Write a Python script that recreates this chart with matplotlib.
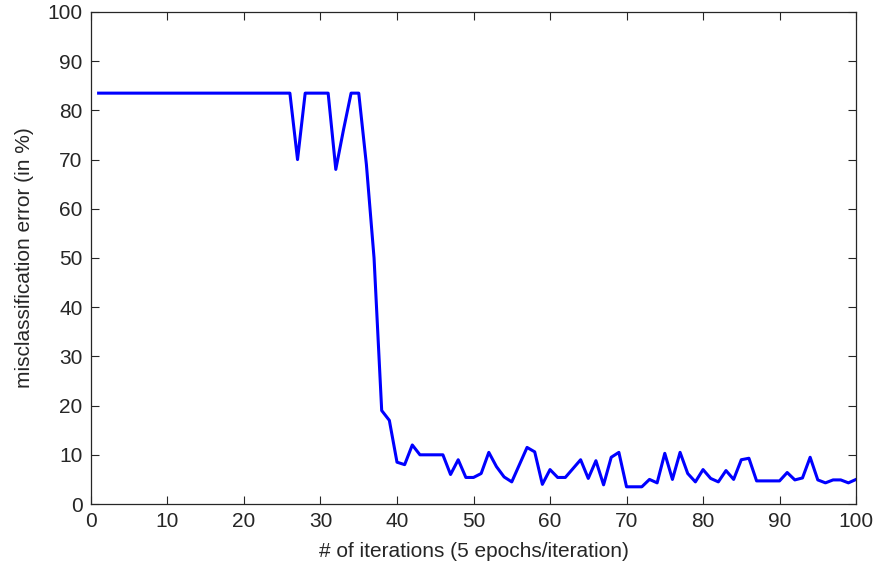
import matplotlib
matplotlib.use("Agg")
import matplotlib.pyplot as plt
import numpy as np

iterations = list(range(1, 101))
error_pct = (
    [83.5] * 26 +
    [70.0, 83.5, 83.5, 83.5, 83.5, 68.0, 76.0, 83.5, 83.5, 69.0,
     50.0, 19.0, 17.0, 8.5, 8.0, 12.0, 10.0, 10.0, 10.0, 10.0,
     6.0, 9.0, 5.4, 5.4, 6.2, 10.5, 7.6, 5.5, 4.5, 8.0,
     11.5, 10.6, 4.0, 7.0, 5.4, 5.4, 7.2, 9.0, 5.2, 8.8,
     3.9, 9.5, 10.5, 3.5, 3.5, 3.5, 5.0, 4.3, 10.3, 5.0,
     10.5, 6.2, 4.5, 7.0, 5.2, 4.5, 6.8, 5.0, 9.0, 9.3,
     4.7, 4.7, 4.7, 4.7, 6.4, 4.9, 5.3, 9.5, 4.9, 4.3,
     4.9, 4.9, 4.3, 5.0]
)
xticks = list(range(0, 101, 10))
yticks = list(range(0, 101, 10))

plt.rcParams['font.family'] = ['Liberation Sans', 'DejaVu Sans']

fig = plt.figure(figsize=(8.78, 5.69), dpi=100)
ax = fig.add_axes([0.1036, 0.1142, 0.975 - 0.1036, 0.979 - 0.1142])
ax.plot(iterations, error_pct, color='#0000ff', linewidth=2.2)
ax.set_xlim(0, 100)
ax.set_ylim(0, 100)
ax.set_xticks(xticks)
ax.set_yticks(yticks)
ax.tick_params(direction='in', length=6, width=0.8, top=True, right=True,
               labelsize=15, colors='#262626', labelcolor='#262626', pad=6)
for s in ax.spines.values():
    s.set_linewidth(0.9)
    s.set_color('#262626')
ax.set_xlabel('# of iterations (5 epochs/iteration)', fontsize=15,
              labelpad=8, color='#262626')
ax.set_ylabel('misclassification error (in %)', fontsize=15,
              labelpad=10, color='#262626')
fig.savefig('out.png', dpi=100)
